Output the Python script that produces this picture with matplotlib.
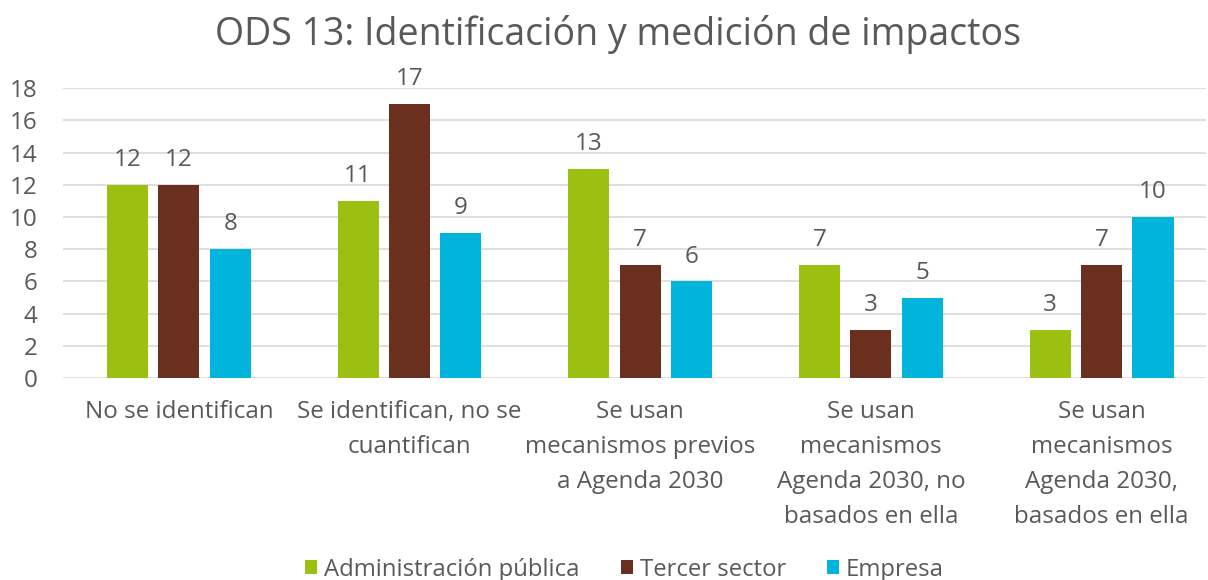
import matplotlib.pyplot as plt
import numpy as np

categorias = [
    "No se identifican",
    "Se identifican, no se\ncuantifican",
    "Se usan\nmecanismos previos\na Agenda 2030",
    "Se usan\nmecanismos\nAgenda 2030, no\nbasados en ella",
    "Se usan\nmecanismos\nAgenda 2030,\nbasados en ella",
]
series = ["Administración pública", "Tercer sector", "Empresa"]
admin = [12, 11, 13, 7, 3]
tercer = [12, 17, 7, 3, 7]
empresa = [8, 9, 6, 5, 10]
colores = ["#9BC011", "#6B2F1F", "#00B4DC"]

gris = "#595959"
plt.rcParams['font.family'] = ['Open Sans', 'DejaVu Sans']

fig = plt.figure(figsize=(12.08, 5.8), dpi=100)
ax = fig.add_axes([0.052, 0.348, 0.946, 0.5])

x = np.arange(len(categorias))
ancho = 0.178
paso = 0.223
for i, (vals, nombre) in enumerate(zip([admin, tercer, empresa], series)):
    pos = x + (i - 1) * paso
    barras = ax.bar(pos, vals, ancho, color=colores[i], label=nombre, zorder=3)
    for b, v in zip(barras, vals):
        ax.text(b.get_x() + b.get_width() / 2, v + 0.8, str(v), ha='center',
                va='bottom', fontsize=17.4, color=gris)

ax.set_xlim(-0.503, 4.451)
ax.set_ylim(0, 18)
ax.set_yticks(range(0, 19, 2))
ax.yaxis.grid(True, color="#D9D9D9", linewidth=1.2, zorder=0)
for s in ax.spines.values():
    s.set_visible(False)
ax.tick_params(axis='both', length=0, labelsize=17.4, labelcolor=gris)
ax.tick_params(axis='y', pad=18)
ax.set_xticks(x)
ax.set_xticklabels(categorias, linespacing=1.6, va='top')
ax.tick_params(axis='x', pad=16)

fig.suptitle("ODS 13: Identificación y medición de impactos", fontsize=27,
             color=gris, x=0.512, y=0.975)

fig.legend(loc='lower center', ncol=3, frameon=False, fontsize=17.2,
           labelcolor=gris, handlelength=0.5, handleheight=0.5,
           handletextpad=0.3, columnspacing=1.7, bbox_to_anchor=(0.517, -0.04))

fig.savefig("out.png", dpi=100)
